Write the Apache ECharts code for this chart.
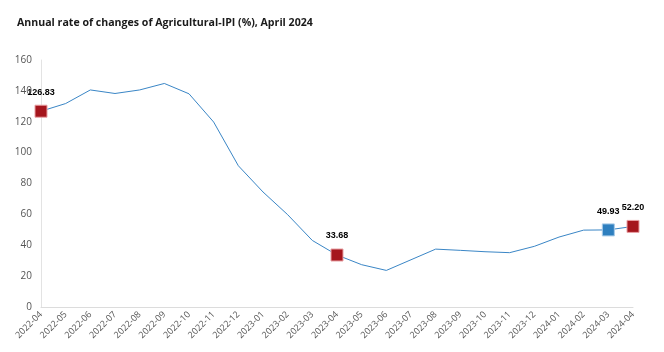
<!DOCTYPE html>
<html>
<head>
<meta charset="utf-8">
<script src="https://cdn.jsdelivr.net/npm/echarts@6/dist/echarts.min.js"></script>
<style>
  html, body { margin: 0; padding: 0; background: #fff; }
  #ct { width: 664px; height: 352px; }
</style>
</head>
<body>
<div id="ct"></div>
<script>
const months = [
  "2022-04", "2022-05", "2022-06", "2022-07", "2022-08", "2022-09", "2022-10",
  "2022-11", "2022-12", "2023-01", "2023-02", "2023-03", "2023-04", "2023-05",
  "2023-06", "2023-07", "2023-08", "2023-09", "2023-10", "2023-11", "2023-12",
  "2024-01", "2024-02", "2024-03", "2024-04"
];
const rates = [
  126.83, 131.8, 140.6, 138.3, 140.6, 144.8, 138.1,
  119.8, 91.5, 74.5, 59.8, 43.1, 33.68, 27.4,
  23.7, 30.6, 37.5, 36.7, 35.8, 35.2, 39.3,
  45.3, 49.8, 49.93, 52.20
];
// points drawn with a square marker and a value label
const redPoints = [0, 12, 24];
const bluePoints = [23];

const chart = echarts.init(document.getElementById("ct"));

const seriesData = rates.map((v, i) => {
  const isRed = redPoints.includes(i);
  const isBlue = bluePoints.includes(i);
  if (!isRed && !isBlue) return v;
  return {
    value: v,
    symbol: "rect",
    symbolSize: 12,
    itemStyle: {
      color: isRed ? "#a5161d" : "#2e7fbf",
      borderColor: isRed ? "#e8a0a4" : "#a8cbe8",
      borderWidth: 1
    },
    label: {
      show: true,
      position: "top",
      distance: isBlue ? 7 : 8,
      formatter: v.toFixed(2),
      color: "#000",
      fontWeight: "bold",
      fontSize: 9,
      fontFamily: "Liberation Sans"
    }
  };
});

const option = {
  animation: false,
  backgroundColor: "#fff",
  title: {
    text: "Annual rate of changes of Agricultural-IPI (%), April 2024",
    left: 12,
    top: 12,
    textStyle: {
      fontSize: 10.6,
      fontWeight: "bold",
      color: "#1a1a1a",
      fontFamily: "Open Sans"
    }
  },
  grid: {
    left: 41,
    right: 31,
    top: 60,
    bottom: 45
  },
  xAxis: {
    type: "category",
    boundaryGap: false,
    data: months,
    axisLine: { lineStyle: { color: "#dcdcdc" } },
    axisTick: { show: false },
    axisLabel: {
      rotate: 45,
      interval: 0,
      color: "#555",
      fontSize: 9,
      fontFamily: "Open Sans",
      margin: 6
    }
  },
  yAxis: {
    type: "value",
    min: 0,
    max: 160,
    interval: 20,
    axisLine: { show: true, lineStyle: { color: "#e3e3e3" } },
    axisTick: { show: false },
    splitLine: { show: false },
    axisLabel: {
      color: "#555",
      fontSize: 10,
      fontFamily: "Open Sans",
      margin: 9
    }
  },
  series: [
    {
      type: "line",
      data: seriesData,
      showSymbol: true,
      symbol: "none",
      lineStyle: { color: "#3a86c6", width: 1 },
      itemStyle: { color: "#3a86c6" },
      z: 3
    }
  ]
};

chart.setOption(option);
</script>
</body>
</html>
